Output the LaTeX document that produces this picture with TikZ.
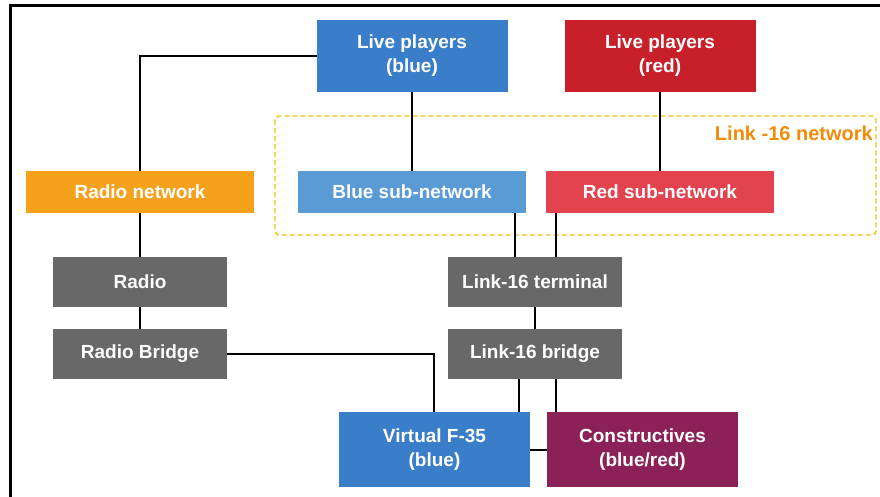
\documentclass[tikz,border=0pt]{standalone}
\usepackage{fontspec}
\setmainfont{Liberation Sans}
\definecolor{bluedark}{HTML}{3A7DC8}
\definecolor{reddark}{HTML}{C8202A}
\definecolor{orangebox}{HTML}{F5A11C}
\definecolor{bluelight}{HTML}{5B9BD5}
\definecolor{redlight}{HTML}{E2434E}
\definecolor{graybox}{HTML}{686868}
\definecolor{purplebox}{HTML}{8C2157}
\definecolor{dashyellow}{HTML}{F2BE10}
\definecolor{labelorange}{HTML}{F08C0A}
\begin{document}
\begin{tikzpicture}[x=1pt,y=-1pt,
  box/.style={draw=none, inner sep=0pt, outer sep=0pt, align=center, text=white,
    font=\fontsize{19}{24}\selectfont\bfseries},
  bigbox/.style={box, minimum width=191pt, minimum height=72pt},
  subbox/.style={box, minimum width=228pt, minimum height=42pt},
  graybx/.style={box, fill=graybox, minimum width=174pt, minimum height=50pt},
  conn/.style={draw=black, line width=2pt}]
\useasboundingbox (0,0) rectangle (880,497);
% frame
\draw[line width=3pt] (10,497) -- (10,6) -- (880,6);
% Link-16 network dashed region
\draw[dashyellow, line width=1.4pt, dash pattern=on 5pt off 3pt, rounded corners=4pt] (275,116) rectangle (876,235);
\node[anchor=east, text=labelorange, font=\fontsize{20}{24}\selectfont\bfseries, inner sep=0pt] (lnet) at (873,133) {Link -16 network};
% nodes
\node[bigbox, fill=bluedark] (lpb) at (412,56) {Live players\\(blue)};
\node[bigbox, fill=reddark] (lpr) at (660,56) {Live players\\(red)};
\node[subbox, fill=orangebox] (rnet) at (140,192) {Radio network};
\node[subbox, fill=bluelight] (bsub) at (412,192) {Blue sub-network};
\node[subbox, fill=redlight] (rsub) at (660,192) {Red sub-network};
\node[graybx] (radio) at (140,282) {Radio};
\node[graybx] (lterm) at (535,282) {Link-16 terminal};
\node[graybx] (rbridge) at (140,354) {Radio Bridge};
\node[graybx] (lbridge) at (535,354) {Link-16 bridge};
\node[bigbox, fill=bluedark, minimum height=75pt] (vf35) at (434.5,449.5) {Virtual F-35\\(blue)};
\node[bigbox, fill=purplebox, minimum height=75pt] (cons) at (642.5,449.5) {Constructives\\(blue/red)};
% helper x positions
\coordinate (c1) at (515,0);
\coordinate (c2) at (556,0);
\coordinate (c3) at (519,0);
\coordinate (c4) at (434,0);
% connectors
\draw[conn] (lpb.west) -| (rnet.north);
\draw[conn] (lpb.south) -- (bsub.north);
\draw[conn] (lpr.south) -- (rsub.north);
\draw[conn] (bsub.south -| c1) -- (lterm.north -| c1);
\draw[conn] (rsub.south -| c2) -- (lterm.north -| c2);
\draw[conn] (lterm.south) -- (lbridge.north);
\draw[conn] (rnet.south) -- (radio.north);
\draw[conn] (radio.south) -- (rbridge.north);
\draw[conn] (rbridge.east) -| (vf35.north -| c4);
\draw[conn] (lbridge.south -| c3) -- (vf35.north -| c3);
\draw[conn] (lbridge.south -| c2) -- (cons.north -| c2);
\draw[conn] (vf35.east) -- (cons.west);
\end{tikzpicture}
\end{document}
